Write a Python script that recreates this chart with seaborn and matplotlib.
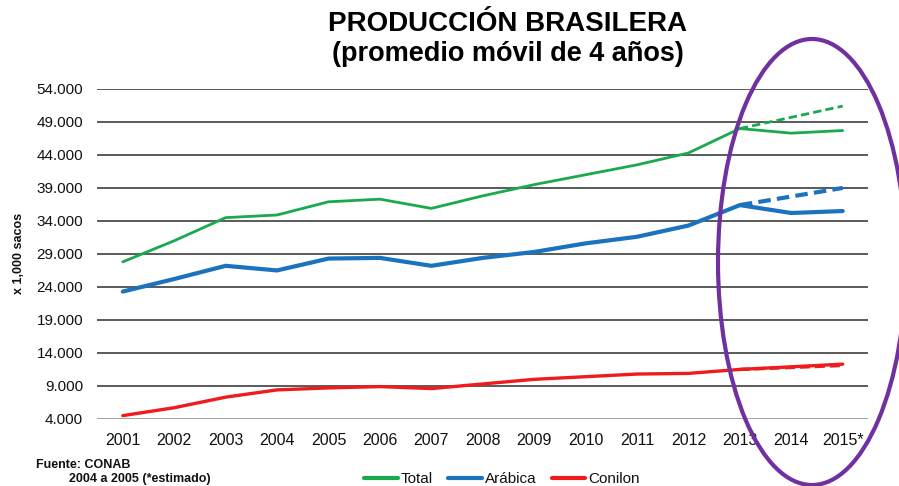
import seaborn as sns
import pandas as pd
import matplotlib.pyplot as plt
from matplotlib.patches import Ellipse

# data (x 1,000 sacos)
years = ['2001', '2002', '2003', '2004', '2005', '2006', '2007', '2008',
         '2009', '2010', '2011', '2012', '2013', '2014', '2015*']
total = [27.8, 31.0, 34.5, 34.9, 36.9, 37.3, 35.9, 37.8, 39.5, 41.0, 42.5, 44.3, 48.0, 47.3, 47.7]
arabica = [23.3, 25.2, 27.2, 26.5, 28.3, 28.4, 27.2, 28.4, 29.3, 30.6, 31.6, 33.3, 36.4, 35.2, 35.5]
conilon = [4.5, 5.7, 7.3, 8.4, 8.7, 8.9, 8.6, 9.3, 10.0, 10.4, 10.8, 10.9, 11.5, 11.9, 12.3]

# projected trend (dashed) 2013 -> 2015
proj_years = ['2013', '2014', '2015*']
total_proj = [48.0, 49.7, 51.4]
arabica_proj = [36.4, 37.7, 39.0]
conilon_proj = [11.5, 11.8, 12.1]

series = ['Total', 'Arábica', 'Conilon']
colors = {'Total': '#19A94F', 'Arábica': '#1B72BE', 'Conilon': '#EE1C1C'}
widths = {'Total': 2.0, 'Arábica': 3.0, 'Conilon': 2.4}

df = pd.DataFrame({'year': years * 3,
                   'serie': [s for s in series for _ in years],
                   'value': total + arabica + conilon})
df['x'] = df['year'].map({y: i for i, y in enumerate(years)})

proj = pd.DataFrame({'year': proj_years * 3,
                     'serie': [s for s in series for _ in proj_years],
                     'value': total_proj + arabica_proj + conilon_proj})
proj['x'] = proj['year'].map({y: i for i, y in enumerate(years)})

sns.set_style('white')
plt.rcParams['font.family'] = ['Liberation Sans Narrow', 'Liberation Sans', 'DejaVu Sans']
plt.rcParams['text.color'] = '#111111'
plt.rcParams['xtick.color'] = '#111111'
plt.rcParams['ytick.color'] = '#111111'
plt.rcParams['axes.labelcolor'] = '#111111'

fig = plt.figure(figsize=(8.99, 4.86), dpi=100)
ax = fig.add_axes([0.108, 0.138, 0.858, 0.679])

for s in series:
    sub = df[df['serie'] == s]
    sns.lineplot(data=sub, x='x', y='value', ax=ax, color=colors[s],
                 linewidth=widths[s], label=s, clip_on=False, zorder=3)
    sp = proj[proj['serie'] == s]
    sns.lineplot(data=sp, x='x', y='value', ax=ax, color=colors[s],
                 linewidth=widths[s], linestyle=(0, (3, 1.5)), clip_on=False,
                 zorder=3, legend=False)

yt = [4, 9, 14, 19, 24, 29, 34, 39, 44, 49, 54]
ax.set_yticks(yt)
ax.set_yticklabels([f'{v}.000' for v in yt], fontsize=11, family='Liberation Sans')
ax.set_ylim(4, 54)
ax.set_xticks(range(len(years)))
ax.set_xticklabels(years, fontsize=11.5)
ax.set_xlim(-0.5, len(years) - 0.5)
ax.tick_params(axis='both', length=0, pad=10)
ax.grid(axis='y', color='#5a5a5a', linewidth=1.4)
ax.grid(axis='x', visible=False)
ax.get_ygridlines()[0].set_color('#a0a0a0')
for sp_ in ax.spines.values():
    sp_.set_visible(False)
ax.set_xlabel('')
ax.set_ylabel('x 1,000 sacos', fontsize=9, fontweight='bold',
              family='Liberation Sans', labelpad=8)

fig.text(0.565, 0.950, 'PRODUCCIÓN BRASILERA', ha='center', va='center',
         fontsize=20, fontweight='bold', family='Liberation Sans', color='black')
fig.text(0.565, 0.888, '(promedio móvil de 4 años)', ha='center', va='center',
         fontsize=19.5, fontweight='bold', family='Liberation Sans', color='black')

fig.text(0.040, 0.043, 'Fuente: CONAB', fontsize=9, fontweight='bold', va='center')
fig.text(0.077, 0.014, '2004 a 2005 (*estimado)', fontsize=9, fontweight='bold', va='center')

leg = ax.legend(loc='center', bbox_to_anchor=(0.525, -0.183), ncol=3, frameon=False,
                fontsize=11, handlelength=2.2, handletextpad=0.2, columnspacing=1.0)
for h in leg.get_lines():
    h.set_linewidth(3)

ell = Ellipse((812 / 899, 1 - 262 / 486), 188 / 899, 446 / 486,
              transform=fig.transFigure, fill=False, edgecolor='#7030A0',
              linewidth=3, zorder=10, clip_on=False)
fig.add_artist(ell)

plt.savefig('out.png', dpi=100)
